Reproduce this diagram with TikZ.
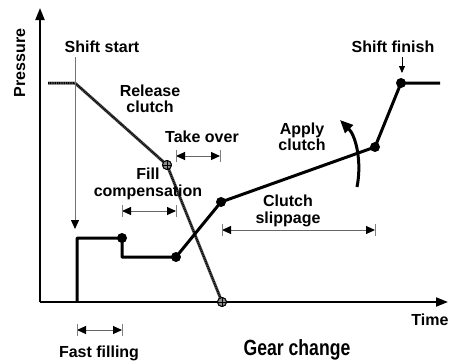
\documentclass[tikz,border=0pt]{standalone}
\usepackage{fontspec}
\setmainfont{Liberation Sans}
\newfontfamily\narrowfont[FakeStretch=0.8]{Liberation Sans}
\usetikzlibrary{arrows.meta}

\begin{document}
\begin{tikzpicture}[x=1pt,y=-1pt,
  lbl/.style={font=\fontsize{16}{16.5}\selectfont\bfseries, align=center, inner sep=0pt},
  axis/.style={line width=2pt, -{Triangle[length=12pt,width=9pt]}},
  applyline/.style={line width=3pt, line join=round},
  releaseline/.style={line width=3pt, black!60, line join=round},
  releasetex/.style={line width=2pt, black, dash pattern=on 1pt off 0.8pt},
  dot/.style={circle, fill=black, inner sep=0pt, minimum size=10pt},
  rdot/.style={circle, draw=black, fill=black!45, line width=0.9pt, inner sep=0pt, minimum size=9pt,
    path picture={\draw[black,line width=0.5pt]
      (path picture bounding box.north) -- (path picture bounding box.south)
      (path picture bounding box.west) -- (path picture bounding box.east);}},
  dimline/.style={line width=1pt, black!60,
    {Triangle[black,length=9pt,width=8pt]}-{Triangle[black,length=9pt,width=8pt]}},
  dimbar/.style={line width=0.8pt, black!50},
  marker/.style={line width=0.8pt, black!55, -{Triangle[black,length=9pt,width=8pt]}},
  smallmarker/.style={line width=0.8pt, -{Triangle[length=7pt,width=6pt]}},
  bendarrow/.style={line width=3pt, -{Triangle[length=13pt,width=11pt]}}
]
\useasboundingbox (0,0) rectangle (450,362);

% axes
\coordinate (o) at (40,302);
\coordinate (ytop) at (40,8);
\coordinate (xend) at (448,302);
\draw[axis] (o) -- (ytop);
\draw[axis] (o) -- (xend);

% release-clutch pressure
\coordinate (r0) at (48,83);
\coordinate (r1) at (75,83);
\node[rdot] (r2) at (167,165) {};
\node[rdot] (r3) at (222,302) {};
\draw[releaseline] (r0) -- (r1) -- (r2.center) -- (r3.center);
\draw[releasetex] (r0) -- (r1) -- (r2.center) -- (r3.center);
\node[rdot] at (r2) {};
\node[rdot] at (r3) {};

% apply-clutch pressure
\coordinate (a0) at (77,302);
\coordinate (a1) at (77,238);
\node[dot] (a2) at (122,238) {};
\coordinate (a3) at (122,257);
\node[dot] (a4) at (176,257) {};
\node[dot] (a5) at (221,202) {};
\node[dot] (a6) at (375,147) {};
\node[dot] (a7) at (401,83) {};
\coordinate (a8) at (440,83);
\draw[applyline] (a0) -- (a1) -- (a2.center) -- (a3) -- (a4.center) -- (a5.center)
  -- (a6.center) -- (a7.center) -- (a8);

% shift start / finish markers
\coordinate (ss0) at (75,57);
\coordinate (ss1) at (75,229);
\draw[marker] (ss0) -- (ss1);
\coordinate (sf0) at (402,57);
\coordinate (sf1) at (402,73);
\draw[smallmarker] (sf0) -- (sf1);

% apply arrow
\coordinate (ap0) at (357,187);
\coordinate (ap1) at (340,120);
\draw[bendarrow] (ap0) .. controls (362,162) and (356,136) .. (ap1);

% dimension arrows
\coordinate (to0) at (176,156); \coordinate (to1) at (220,156);
\coordinate (fc0) at (122,211); \coordinate (fc1) at (176,211);
\coordinate (cs0) at (222,230); \coordinate (cs1) at (375,230);
\coordinate (ff0) at (77,330);  \coordinate (ff1) at (122,330);
\foreach \p/\q in {to0/to1, fc0/fc1, cs0/cs1, ff0/ff1}{
  \draw[dimline] (\p) -- (\q);
  \draw[dimbar] ([yshift=-6pt]\p) -- ([yshift=6pt]\p);
  \draw[dimbar] ([yshift=-6pt]\q) -- ([yshift=6pt]\q);
}

% labels
\node[lbl, rotate=90, anchor=base] (pressure) at (25,63) {Pressure};
\node[lbl, anchor=base] (shiftstart) at (102,52) {Shift start};
\node[lbl] (release) at (150,99) {Release\\clutch};
\node[lbl, anchor=base] (takeover) at (202,142) {Take over};
\node[lbl] (fillcomp) at (148,184) {Fill\\compensation};
\node[lbl] (apply) at (302,137) {Apply\\clutch};
\node[lbl, anchor=base] (shiftfinish) at (393,52) {Shift finish};
\node[lbl] (slip) at (288,211) {Clutch\\slippage};
\node[lbl, anchor=base] (time) at (430,325) {Time};
\node[lbl, anchor=base] (fastfill) at (99,357) {Fast filling};
\node[inner sep=0pt, anchor=base, font=\narrowfont\bfseries\fontsize{22}{24}\selectfont] (gear) at (297,355) {Gear change};
\end{tikzpicture}
\end{document}
